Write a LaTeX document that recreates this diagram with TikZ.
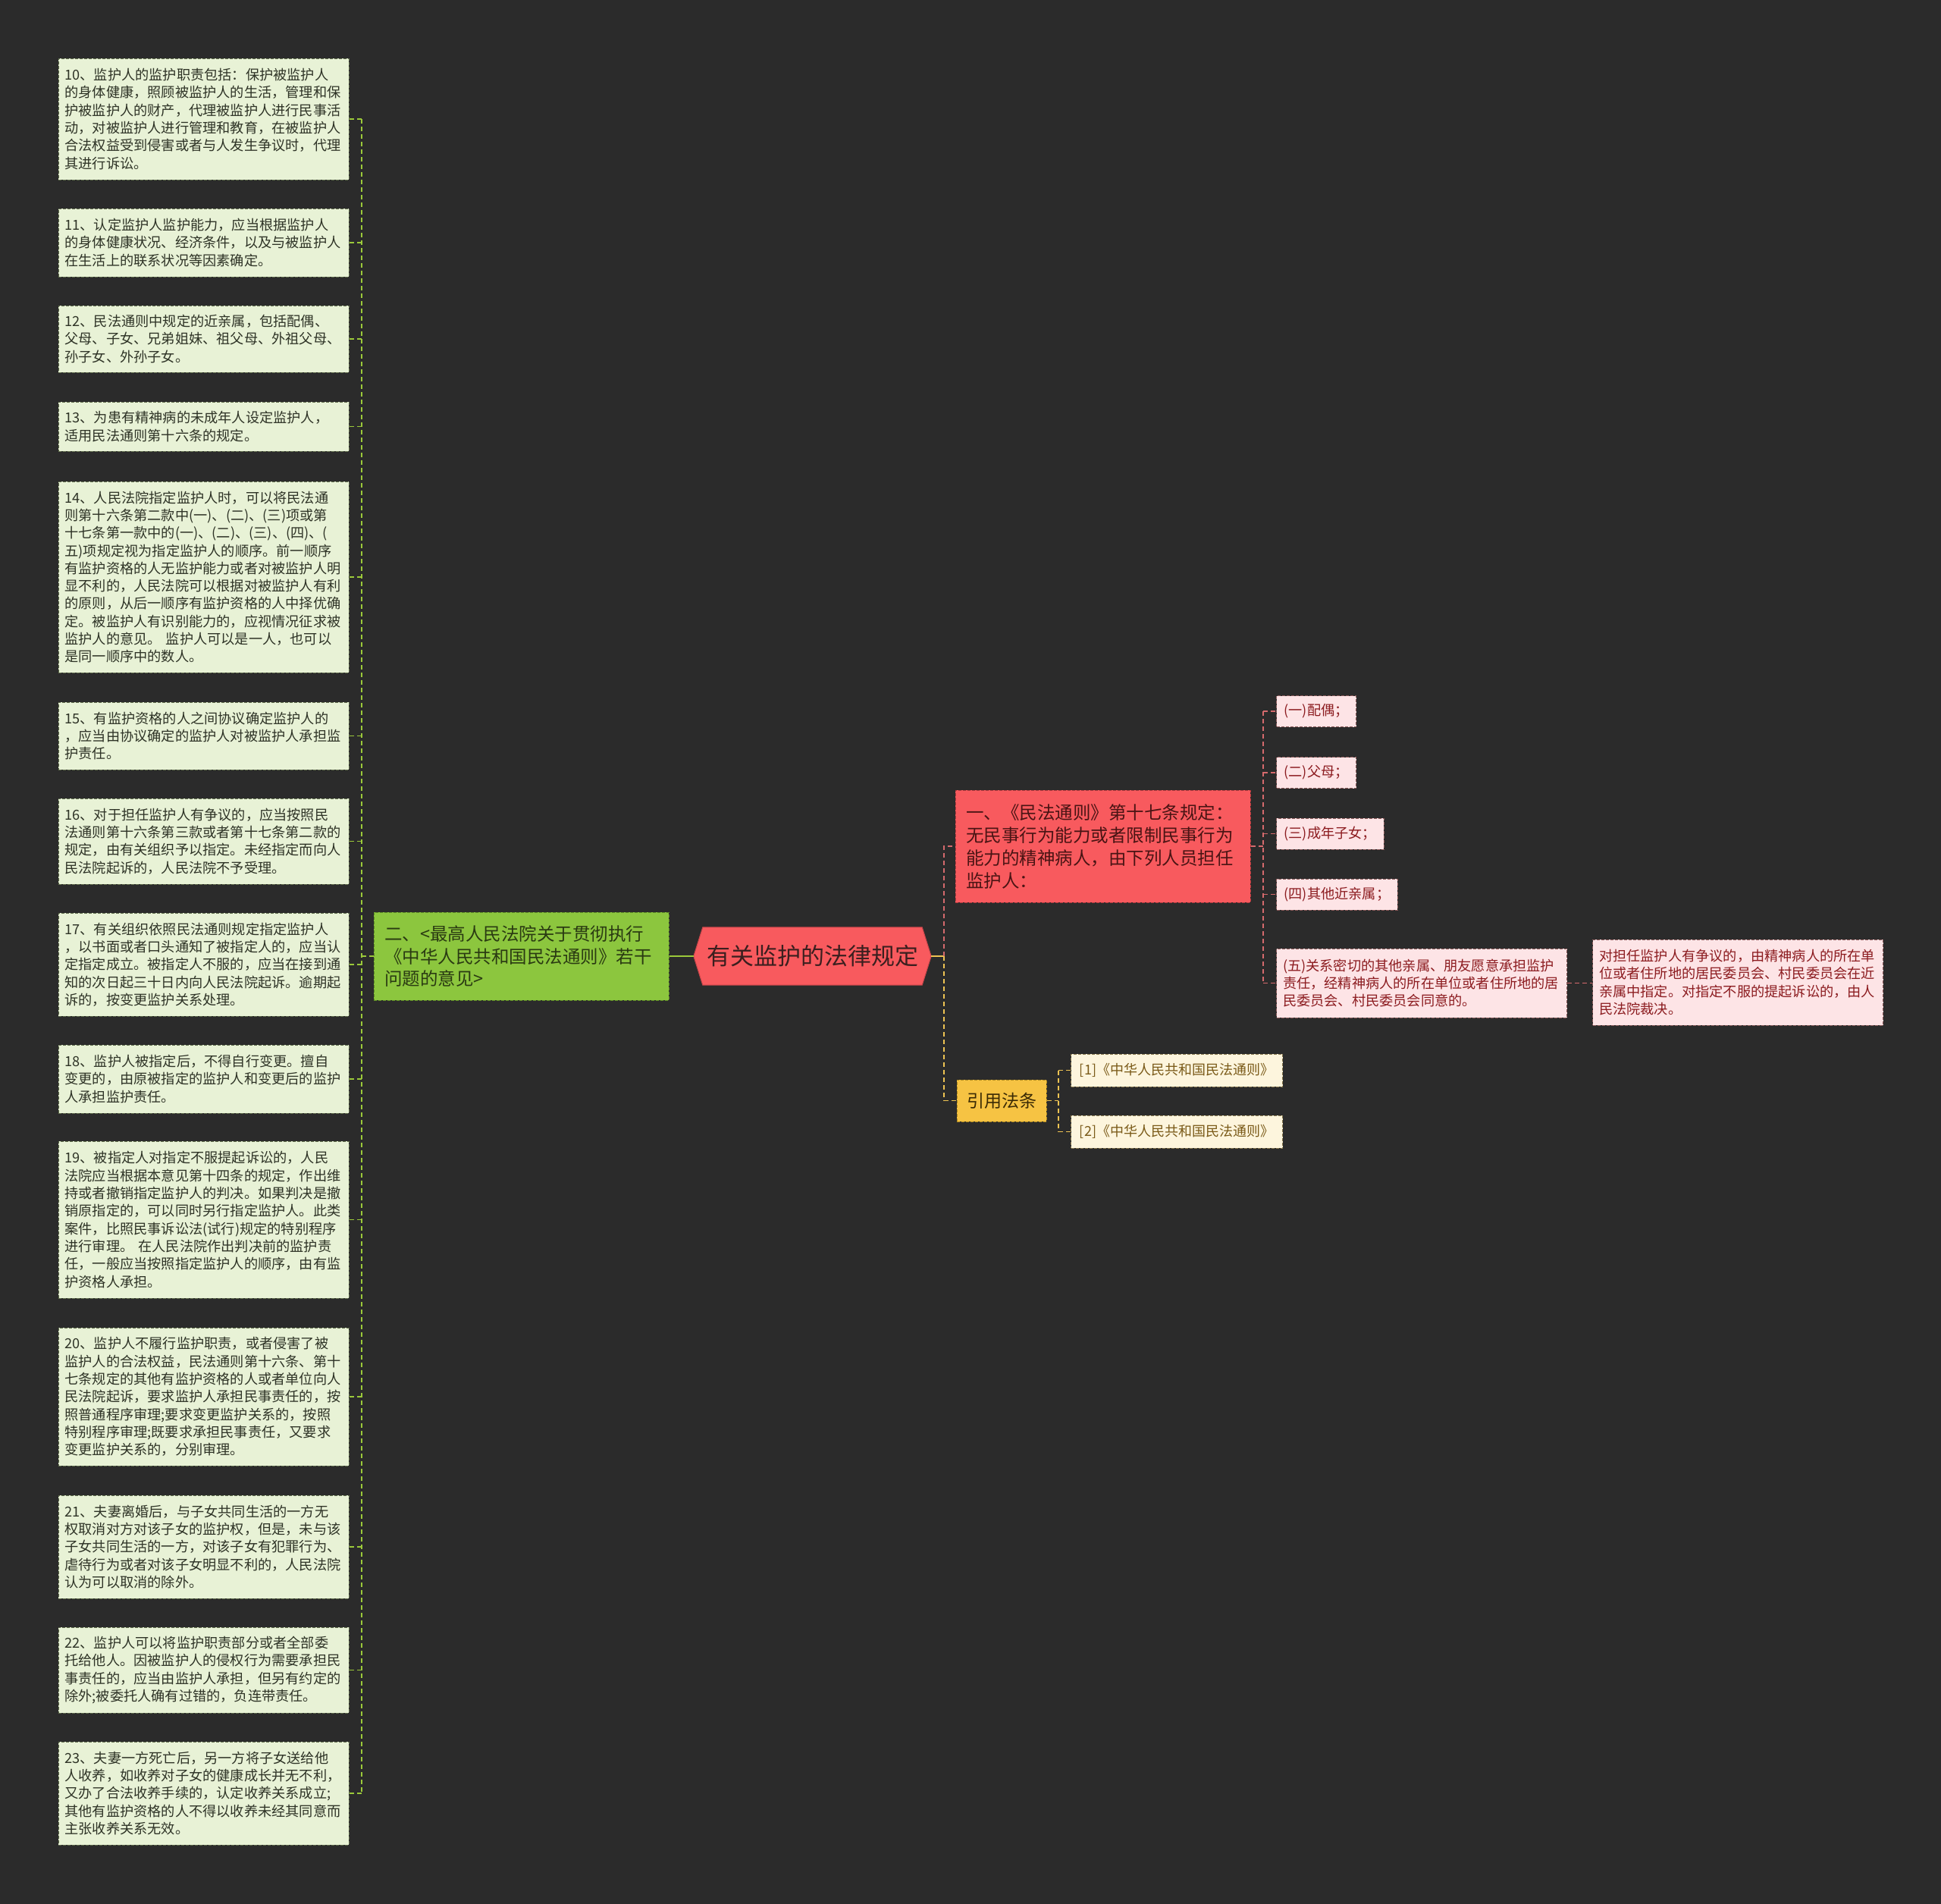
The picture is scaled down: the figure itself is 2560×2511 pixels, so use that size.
\documentclass[tikz,border=0pt]{standalone}
\usepackage{fontspec}
\newfontfamily\cjk{Noto Sans CJK SC}
\usetikzlibrary{backgrounds}
\definecolor{bgc}{HTML}{2B2B2B}
\definecolor{leftfill}{HTML}{E8F2D6}
\definecolor{leftdraw}{HTML}{5E6B4A}
\definecolor{lefttext}{HTML}{2E3326}
\definecolor{glinec}{HTML}{9BC93A}
\definecolor{greenfill}{HTML}{8CC63E}
\definecolor{greendraw}{HTML}{5D8A26}
\definecolor{greentext}{HTML}{2A3A12}
\definecolor{centerfill}{HTML}{F85A5E}
\definecolor{centerdraw}{HTML}{C8464A}
\definecolor{centertext}{HTML}{3B1F1F}
\definecolor{redfill}{HTML}{F85A5E}
\definecolor{reddraw}{HTML}{B03A3E}
\definecolor{redtext}{HTML}{4A1414}
\definecolor{rlinec}{HTML}{D56A6D}
\definecolor{pinkfill}{HTML}{FDE4E6}
\definecolor{pinkdraw}{HTML}{8A5A5A}
\definecolor{pinktext}{HTML}{8C1C20}
\definecolor{yellowfill}{HTML}{F6C343}
\definecolor{yellowdraw}{HTML}{B08A20}
\definecolor{yellowtext}{HTML}{3A2A05}
\definecolor{ylinec}{HTML}{EFC453}
\definecolor{creamfill}{HTML}{FDF5DD}
\definecolor{creamdraw}{HTML}{8A7A50}
\definecolor{creamtext}{HTML}{7A5A18}
\begin{document}
\begin{tikzpicture}[x=1pt,y=-1pt,
  boxdash/.style={dash pattern=on 4pt off 2pt, line width=1pt},
  lbox/.style={boxdash, draw=leftdraw, fill=leftfill, text=lefttext,
    font=\cjk\fontsize{18.2pt}{23.3pt}\selectfont, text width=366pt,
    inner xsep=8.5pt, inner ysep=0pt, align=left},
  pbox/.style={boxdash, draw=pinkdraw, fill=pinkfill, text=pinktext,
    font=\cjk\fontsize{18.2pt}{23.3pt}\selectfont, inner xsep=10pt, inner ysep=0pt, anchor=west},
  pwide/.style={pbox, text width=366pt, align=left, inner xsep=8.5pt},
  cbox/.style={boxdash, draw=creamdraw, fill=creamfill, text=creamtext,
    font=\cjk\fontsize{18pt}{23pt}\selectfont, inner xsep=10pt, inner ysep=0pt,
    minimum height=43pt, minimum width=279pt, anchor=west},
  conn/.style={dash pattern=on 6pt off 4pt, line width=1.8pt},
  gline/.style={conn, draw=glinec},
  rline/.style={conn, draw=rlinec},
  yline/.style={conn, draw=ylinec}]
\useasboundingbox (0,0) rectangle (2560,2511);

% ---------- left column ----------
\node[lbox, minimum height=160pt] (b10) at (268.5,157) {10、监护人的监护职责包括：保护被监护人\\的身体健康，照顾被监护人的生活，管理和保\\护被监护人的财产，代理被监护人进行民事活\\动，对被监护人进行管理和教育，在被监护人\\合法权益受到侵害或者与人发生争议时，代理\\其进行诉讼。};
\node[lbox, minimum height=90pt] (b11) at (268.5,320) {11、认定监护人监护能力，应当根据监护人\\的身体健康状况、经济条件，以及与被监护人\\在生活上的联系状况等因素确定。};
\node[lbox, minimum height=88pt] (b12) at (268.5,447) {12、民法通则中规定的近亲属，包括配偶、\\父母、子女、兄弟姐妹、祖父母、外祖父母、\\孙子女、外孙子女。};
\node[lbox, minimum height=65pt] (b13) at (268.5,562.5) {13、为患有精神病的未成年人设定监护人，\\适用民法通则第十六条的规定。};
\node[lbox, minimum height=252pt] (b14) at (268.5,761) {14、人民法院指定监护人时，可以将民法通\\则第十六条第二款中(一)、(二)、(三)项或第\\十七条第一款中的(一)、(二)、(三)、(四)、(\\五)项规定视为指定监护人的顺序。前一顺序\\有监护资格的人无监护能力或者对被监护人明\\显不利的，人民法院可以根据对被监护人有利\\的原则，从后一顺序有监护资格的人中择优确\\定。被监护人有识别能力的，应视情况征求被\\监护人的意见。 监护人可以是一人，也可以\\是同一顺序中的数人。};
\node[lbox, minimum height=89pt] (b15) at (268.5,970.5) {15、有监护资格的人之间协议确定监护人的\\，应当由协议确定的监护人对被监护人承担监\\护责任。};
\node[lbox, minimum height=113pt] (b16) at (268.5,1109.5) {16、对于担任监护人有争议的，应当按照民\\法通则第十六条第三款或者第十七条第二款的\\规定，由有关组织予以指定。未经指定而向人\\民法院起诉的，人民法院不予受理。};
\node[lbox, minimum height=136pt] (b17) at (268.5,1272) {17、有关组织依照民法通则规定指定监护人\\，以书面或者口头通知了被指定人的，应当认\\定指定成立。被指定人不服的，应当在接到通\\知的次日起三十日内向人民法院起诉。逾期起\\诉的，按变更监护关系处理。};
\node[lbox, minimum height=90pt] (b18) at (268.5,1423) {18、监护人被指定后，不得自行变更。擅自\\变更的，由原被指定的监护人和变更后的监护\\人承担监护责任。};
\node[lbox, minimum height=207pt] (b19) at (268.5,1608.5) {19、被指定人对指定不服提起诉讼的，人民\\法院应当根据本意见第十四条的规定，作出维\\持或者撤销指定监护人的判决。如果判决是撤\\销原指定的，可以同时另行指定监护人。此类\\案件，比照民事诉讼法(试行)规定的特别程序\\进行审理。 在人民法院作出判决前的监护责\\任，一般应当按照指定监护人的顺序，由有监\\护资格人承担。};
\node[lbox, minimum height=182pt] (b20) at (268.5,1842) {20、监护人不履行监护职责，或者侵害了被\\监护人的合法权益，民法通则第十六条、第十\\七条规定的其他有监护资格的人或者单位向人\\民法院起诉，要求监护人承担民事责任的，按\\照普通程序审理;要求变更监护关系的，按照\\特别程序审理;既要求承担民事责任，又要求\\变更监护关系的，分别审理。};
\node[lbox, minimum height=136pt] (b21) at (268.5,2040) {21、夫妻离婚后，与子女共同生活的一方无\\权取消对方对该子女的监护权，但是，未与该\\子女共同生活的一方，对该子女有犯罪行为、\\虐待行为或者对该子女明显不利的，人民法院\\认为可以取消的除外。};
\node[lbox, minimum height=113pt] (b22) at (268.5,2202.5) {22、监护人可以将监护职责部分或者全部委\\托给他人。因被监护人的侵权行为需要承担民\\事责任的，应当由监护人承担，但另有约定的\\除外;被委托人确有过错的，负连带责任。};
\node[lbox, minimum height=136pt] (b23) at (268.5,2365) {23、夫妻一方死亡后，另一方将子女送给他\\人收养，如收养对子女的健康成长并无不利，\\又办了合法收养手续的，认定收养关系成立;\\其他有监护资格的人不得以收养未经其同意而\\主张收养关系无效。};

% ---------- green branch ----------
\node[boxdash, draw=greendraw, fill=greenfill, text=greentext,
  font=\cjk\fontsize{23.5pt}{29.5pt}\selectfont, text width=361pt, inner xsep=14pt, inner ysep=0pt,
  align=left, minimum height=116pt] (g) at (687.5,1261) {二、<最高人民法院关于贯彻执行\\《中华人民共和国民法通则》若干\\问题的意见>};

% ---------- center ----------
\node[font=\cjk\fontsize{31pt}{36pt}\selectfont, text=centertext, minimum width=313pt,
  minimum height=76pt, inner sep=0pt] (c) at (1071.5,1261) {有关监护的法律规定};

% ---------- red branch ----------
\node[boxdash, draw=reddraw, fill=redfill, text=redtext,
  font=\cjk\fontsize{23.5pt}{30pt}\selectfont, text width=361pt, inner xsep=14pt, inner ysep=0pt,
  align=left, minimum height=148pt] (r) at (1454.5,1116) {一、《民法通则》第十七条规定：\\无民事行为能力或者限制民事行为\\能力的精神病人，由下列人员担任\\监护人：};

\node[pbox, minimum height=41pt, minimum width=105pt] (p1) at (1683,938) {(一)配偶；};
\node[pbox, minimum height=41pt, minimum width=105pt] (p2) at (1683,1019) {(二)父母；};
\node[pbox, minimum height=41pt, minimum width=139pt] (p3) at (1683,1099.5) {(三)成年子女；};
\node[pbox, minimum height=41pt, minimum width=157pt] (p4) at (1683,1179.5) {(四)其他近亲属；};
\node[pwide, minimum height=91pt] (p5) at (1683,1296.5) {(五)关系密切的其他亲属、朋友愿意承担监护\\责任，经精神病人的所在单位或者住所地的居\\民委员会、村民委员会同意的。};
\node[pwide, minimum height=113pt] (p6) at (2100,1295.5) {对担任监护人有争议的，由精神病人的所在单\\位或者住所地的居民委员会、村民委员会在近\\亲属中指定。对指定不服的提起诉讼的，由人\\民法院裁决。};

% ---------- yellow branch ----------
\node[boxdash, draw=yellowdraw, fill=yellowfill, text=yellowtext,
  font=\cjk\fontsize{23pt}{28pt}\selectfont, inner sep=0pt, minimum width=118pt,
  minimum height=55pt] (y) at (1321,1451.5) {引用法条};
\node[cbox] (c1) at (1412,1411.5) {[1]《中华人民共和国民法通则》};
\node[cbox] (c2) at (1412,1492.5) {[2]《中华人民共和国民法通则》};

% ---------- background & center shape ----------
\begin{pgfonlayer}{background}
  \fill[bgc] (0,0) rectangle (2560,2511);
  \filldraw[fill=centerfill, draw=centerdraw, line width=1pt]
    (c.west) -- ([xshift=12pt]c.north west) -- ([xshift=-12pt]c.north east)
    -- (c.east) -- ([xshift=-12pt]c.south east) -- ([xshift=12pt]c.south west) -- cycle;
\end{pgfonlayer}

% ---------- connectors ----------
\coordinate (lt) at (477,1261);
\draw[gline] (g.west) -- (g.west -| lt);
\draw[gline] (b10.east -| lt) -- (b23.east -| lt);
\foreach \b in {b10,b11,b12,b13,b14,b15,b16,b17,b18,b19,b20,b21,b22,b23}
  \draw[gline] (\b.east -| lt) -- (\b.east);

\draw[glinec, line width=2.5pt] (c.west) -- (g.east);
\coordinate (rt) at (1245,1261);
\draw[ylinec, line width=2.5pt] (c.east) -- (rt);
\draw[rline] (rt) |- (r.west);
\draw[yline] (rt) |- (y.west);

\coordinate (pt) at (1666,1116);
\draw[rline] (r.east) -- (r.east -| pt);
\draw[rline] (p1.west -| pt) -- (p5.west -| pt);
\foreach \p in {p1,p2,p3,p4,p5}
  \draw[rline] (\p.west -| pt) -- (\p.west);
\draw[rline] (p5.east) -- (p5.east -| p6.west);

\coordinate (ct) at (1396,1451);
\draw[yline] (y.east) -- (y.east -| ct);
\draw[yline] (c1.west -| ct) -- (c2.west -| ct);
\foreach \q in {c1,c2}
  \draw[yline] (\q.west -| ct) -- (\q.west);
\end{tikzpicture}
\end{document}
